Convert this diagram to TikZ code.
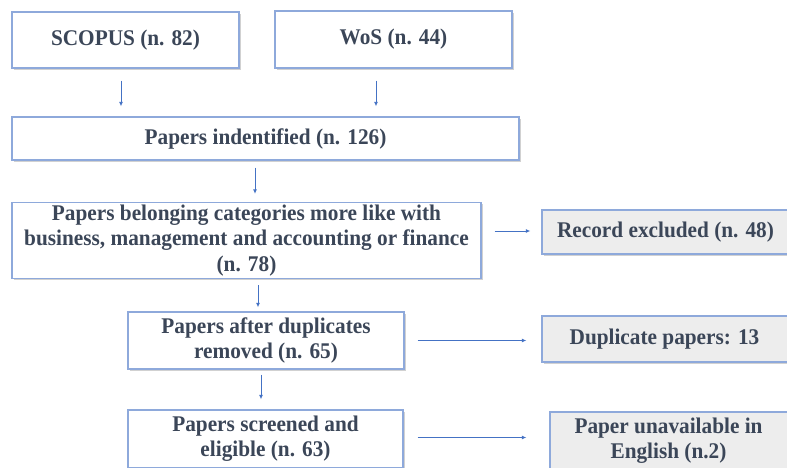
\documentclass[tikz,border=0pt]{standalone}
\usepackage{fontspec}
\setmainfont{Liberation Serif}[FakeStretch=0.95]
\usetikzlibrary{arrows.meta,shadows}
\definecolor{bordc}{HTML}{8EA9DB}
\definecolor{txtc}{HTML}{3B4658}
\definecolor{arrc}{HTML}{4472C4}
\definecolor{greyf}{HTML}{EDEDED}
\tikzset{
  boxst/.style={draw=bordc, line width=1.3pt, fill=white, text=txtc, align=center,
    font=\fontsize{22.4}{25.2}\selectfont\bfseries, inner sep=0pt,
    drop shadow={shadow xshift=1.8pt, shadow yshift=-1.8pt, fill=black!40, opacity=0.45}},
  sidest/.style={boxst, fill=greyf},
  arr/.style={draw=arrc, line width=0.9pt, -{Latex[length=4.5pt,width=4pt]}}
}
\begin{document}
\begin{tikzpicture}[x=1pt,y=-1pt]
\useasboundingbox (0,0) rectangle (787,468);
\node[boxst, minimum width=227pt, minimum height=56pt] (scopus) at (125.5,40) {SCOPUS (n. 82)};
\node[boxst, minimum width=237pt, minimum height=57pt] (wos) at (393.5,39.5) {WoS (n. 44)};
\node[boxst, minimum width=507pt, minimum height=43pt] (ident) at (265.5,138.5) {Papers indentified (n. 126)};
\node[boxst, minimum width=469pt, minimum height=76pt] (belong) at (246.5,240.5) {Papers belonging categories more like with\\business, management and accounting or finance\\(n. 78)};
\node[boxst, minimum width=276pt, minimum height=57pt] (dup) at (266,340.5) {Papers after duplicates\\removed (n. 65)};
\node[boxst, minimum width=275pt, minimum height=58pt] (screen) at (265.5,439) {Papers screened and\\eligible (n. 63)};
\node[sidest, minimum width=250pt, minimum height=44pt] (rec) at (667,232) {\hspace*{-3pt}Record excluded (n. 48)};
\node[sidest, minimum width=250pt, minimum height=46pt] (dupp) at (667,339) {\hspace*{-5pt}Duplicate papers: 13};
\node[sidest, minimum width=242pt, minimum height=58pt] (unav) at (671,441) {\hspace*{-5pt}Paper unavailable in\\\hspace*{-5pt}English (n.2)};

\draw[arr, shorten <=12pt, shorten >=10pt] ([xshift=-4.5pt]scopus.south) -- ([xshift=-4.5pt]scopus.south |- ident.north);
\draw[arr, shorten <=12pt, shorten >=10pt] ([xshift=-17.5pt]wos.south) -- ([xshift=-17.5pt]wos.south |- ident.north);
\draw[arr, shorten <=7pt, shorten >=8pt] ([xshift=-10.5pt]ident.south) -- ([xshift=-10.5pt]ident.south |- belong.north);
\draw[arr, shorten <=6pt, shorten >=4pt] ([xshift=11.5pt]belong.south) -- ([xshift=11.5pt]belong.south |- dup.north);
\draw[arr, shorten <=5pt, shorten >=10pt] ([xshift=-5pt]dup.south) -- ([xshift=-5pt]dup.south |- screen.north);
\draw[arr, shorten <=13pt, shorten >=11pt] ([yshift=1pt]rec.west -| belong.east) -- ([yshift=1pt]rec.west);
\draw[arr, shorten <=13pt, shorten >=15pt] (dup.east) -- (dup.east -| dupp.west);
\draw[arr, shorten <=14pt, shorten >=23pt] ([yshift=1.5pt]screen.east) -- ([yshift=1.5pt]screen.east -| unav.west);
\end{tikzpicture}
\end{document}
